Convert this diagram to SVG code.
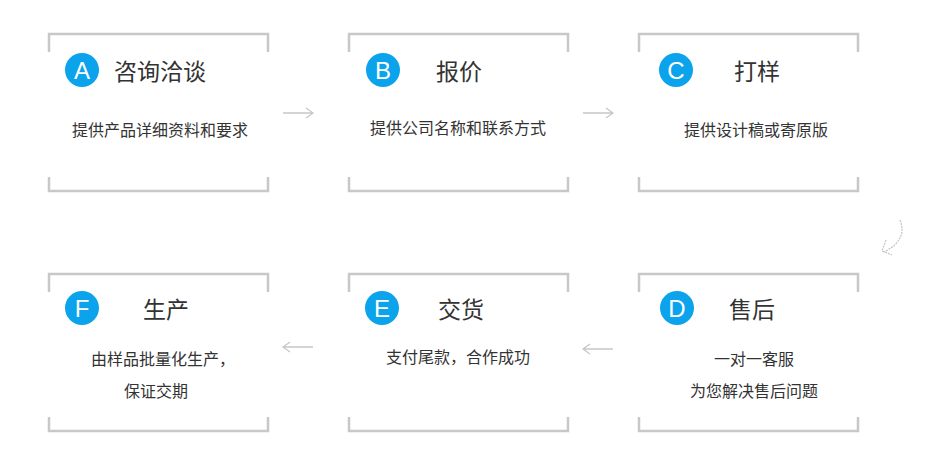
<svg xmlns="http://www.w3.org/2000/svg" width="930" height="461" viewBox="0 0 930 461">
<style>
.br{fill:none;stroke:#c8c8c8;stroke-width:2.5}
.c{fill:#0aa3ec}
.l{fill:#fff;font-family:"Liberation Sans",sans-serif;font-size:24px;text-anchor:middle}
.t{fill:#333;font-family:"Noto Sans CJK SC",sans-serif;font-size:23px}
.s{fill:#333;font-family:"Noto Sans CJK SC",sans-serif;font-size:16px;text-anchor:middle}
.a{fill:none;stroke:#c8c8c8;stroke-width:1.3}
</style>
<defs>
<g id="box"><path class="br" d="M1,52V34H220V52M1,177V191H220V177"/></g>
</defs>
<g id="A"><use href="#box" x="48" y="0"/><circle class="c" cx="82" cy="70" r="17"/><text class="l" x="82" y="79">A</text><text class="t" x="114" y="80">咨询洽谈</text><text class="s" x="160" y="136">提供产品详细资料和要求</text></g>
<g id="B"><use href="#box" x="348" y="0"/><circle class="c" cx="383" cy="70" r="17"/><text class="l" x="383" y="79">B</text><text class="t" x="436" y="80">报价</text><text class="s" x="458" y="134">提供公司名称和联系方式</text></g>
<g id="C"><use href="#box" x="638" y="0"/><circle class="c" cx="676" cy="70" r="17"/><text class="l" x="676" y="79">C</text><text class="t" x="734" y="80">打样</text><text class="s" x="756" y="136">提供设计稿或寄原版</text></g>
<g id="F"><use href="#box" x="48" y="240"/><circle class="c" cx="82" cy="308" r="17"/><text class="l" x="82" y="317">F</text><text class="t" x="143" y="318">生产</text><text class="s" x="163" y="365">由样品批量化生产，</text><text class="s" x="156" y="397">保证交期</text></g>
<g id="E"><use href="#box" x="348" y="240"/><circle class="c" cx="382" cy="308" r="17"/><text class="l" x="382" y="317">E</text><text class="t" x="438" y="318">交货</text><text class="s" x="458" y="363">支付尾款，合作成功</text></g>
<g id="D"><use href="#box" x="638" y="240"/><circle class="c" cx="677" cy="308" r="17"/><text class="l" x="677" y="317">D</text><text class="t" x="729" y="318">售后</text><text class="s" x="754" y="365">一对一客服</text><text class="s" x="754" y="397">为您解决售后问题</text></g>
<g id="connectors">
<path class="a" d="M283,113H313M306,108L313,113L306,118"/>
<path class="a" d="M583,113H613M606,108L613,113L606,118"/>
<path class="a" d="M313,347H283M290,342L283,347L290,352"/>
<path class="a" d="M613,349H583M590,344L583,349L590,354"/>
<path class="a" d="M900,220Q908,240 884,252M886,240L882,251L892,255" stroke-dasharray="2 1"/>
</g>
</svg>
